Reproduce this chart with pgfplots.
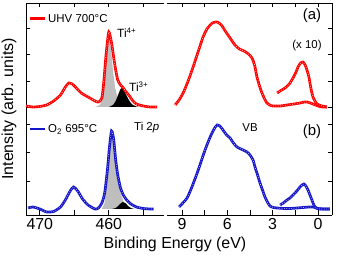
\documentclass[border=0pt]{standalone}
\usepackage{fontspec}
\setmainfont{Liberation Sans}
\usepackage{pgfplots}
\usepackage{pgfplotstable}
\pgfplotsset{compat=1.18}
\definecolor{myred}{RGB}{255,0,0}
\definecolor{myblue}{RGB}{20,20,200}
\definecolor{mygray}{RGB}{190,190,190}
\pgfplotstableread{
472.0 109
471.0 108
470.0 108.5
469.0 110
468.0 114
467.0 120
466.3 128
465.8 132
465.3 131
464.7 127
464.0 122
463.0 118
462.0 114
461.5 113
461.0 117
460.7 135
460.4 160
460.0 183
459.6 172
459.3 158
459.0 145
458.7 135
458.3 130
458.0 128
457.6 124
457.0 119
456.5 114
456.0 111
455.0 109
454.0 108
453.0 108
}\redti
\pgfplotstableread{
471.7 7
471.0 8
470.0 6
469.0 3
468.0 3.5
467.0 8
466.3 15
465.6 24
465.1 28
464.5 24
463.8 16
463.0 10
462.0 6
461.5 7
461.0 12
460.6 22
460.2 45
459.9 68
459.6 84
459.3 76
459.0 55
458.7 40
458.3 27
457.9 20
457.4 15
456.8 11
456.0 8
455.0 6.5
454.0 6
453.5 6
}\blueti
\pgfplotstableread{
9.46 110
9.2 115
8.93 122
8.6 134
8.27 148
7.9 165
7.61 178
7.35 186
7.0 192
6.68 193
6.4 190
6.1 183
5.82 177
5.5 170
5.2 166
4.9 164
4.6 161
4.37 157
4.2 150
4.04 138
3.85 128
3.71 122
3.5 115
3.38 112
3.2 110
2.98 109
2.5 109
2.05 110
1.6 111
1.19 112
0.9 113
0.73 113
0.5 112
0.33 111
0.0 109
-0.3 108
-0.6 108
}\redvb
\pgfplotstableread{
2.71 122
2.4 125
2.18 127
1.9 131
1.65 137
1.45 143
1.32 148
1.15 152
0.99 153
0.85 150
0.73 145
0.6 138
0.53 132
0.43 124
0.33 118
0.2 114
0.07 111
-0.26 109
-0.6 108
}\redten
\pgfplotstableread{
9.2 8
8.95 12
8.67 17
8.35 28
8.0 42
7.75 53
7.48 65
7.25 74
7.02 82
6.8 88
6.68 90
6.5 89
6.29 85
6.05 80
5.82 77
5.6 72
5.36 68
5.1 66
4.96 65
4.7 63
4.5 60
4.3 55
4.17 48
4.0 40
3.84 32
3.65 24
3.51 18
3.35 13
3.18 9
2.95 7.5
2.71 7
2.2 6.5
1.85 6.5
1.4 7
0.99 7.5
0.6 8
0.33 8
0.1 7
0.0 6.5
-0.4 6
-0.79 6
}\bluevb
\pgfplotstableread{
2.51 10
2.3 12
2.05 15
1.85 17
1.65 20
1.4 24
1.19 28
1.05 30
0.93 31
0.8 29
0.66 25
0.53 20
0.40 15
0.3 11
0.20 8
0.05 6.5
-0.13 6
-0.79 6
}\blueten
\pgfplotsset{panel/.style={
  scale only axis, height=212bp, ymin=0, ymax=212,
  ytick={34,63,91,108,134,161,187}, yticklabels={},
  x dir=reverse,
  tick align=inside, axis line style={-, line width=0.8bp},
  major tick length=4.5bp, tick style={line width=0.8bp, black},
  ticklabel style={font=\fontsize{16}{18}\selectfont},
  /pgf/number format/assume math mode=true,
  axis x line*=box, anchor=south west,
  redc/.style={myred, line width=2.7bp, smooth, tension=0.4},
  bluec/.style={myblue, line width=2.7bp, smooth, tension=0.4},
  dotc/.style={white, opacity=0.75, line width=0.7bp, dash pattern=on 0.7bp off 1.7bp, smooth, tension=0.4},
}}
\begin{document}
\begin{tikzpicture}
% ---------------- left panel: Ti 2p ----------------
\begin{axis}[panel, at={(26bp,43bp)}, width=138bp,
  xmin=452, xmax=472, axis y line*=left,
  xtick={455,460,465,470}, xticklabels={,460,,470}]
% red Ti4+ component
\addplot[fill=mygray, draw=none] table {
462.0 108
461.3 110
460.9 116
460.6 135
460.3 165
460.0 183
459.7 168
459.4 145
459.1 128
458.8 119
458.4 113
458.0 110
457.5 108.5
457.0 108
};
% red Ti3+ component
\addplot[fill=black, draw=none, smooth, tension=0.4] table {
460.0 108
459.4 110
459.0 114
458.6 121
458.3 126
458.1 127
457.8 125
457.4 119
457.0 114
456.6 110.5
456.0 108.5
455.5 108
};
% blue Ti4+ component
\addplot[fill=mygray, draw=none] table {
461.0 6
460.6 12
460.2 40
459.9 66
459.6 84
459.3 74
459.0 52
458.7 36
458.3 22
457.9 14
457.4 8
457.0 6
};
% blue Ti3+ component
\addplot[fill=black, draw=none, smooth, tension=0.4] table {
459.6 6
459.0 7
458.5 10
458.0 13
457.6 12
457.2 9
456.8 7
456.3 6
};
\addplot[redc] table {\redti};
\addplot[dotc] table {\redti};
\addplot[bluec] table {\blueti};
\addplot[dotc] table {\blueti};
\end{axis}
% ---------------- right panel: VB ----------------
\begin{axis}[panel, at={(167bp,43bp)}, width=165bp,
  xmin=-0.93, xmax=10, axis y line*=right,
  xtick={0,1.5,3,4.5,6,7.5,9}, xticklabels={0,,3,,6,,9}]
\addplot[redc] table {\redvb};
\addplot[dotc] table {\redvb};
\addplot[redc] table {\redten};
\addplot[dotc] table {\redten};
\addplot[bluec] table {\bluevb};
\addplot[dotc] table {\bluevb};
\addplot[bluec] table {\blueten};
\addplot[dotc] table {\blueten};
\end{axis}
% ---------------- labels and annotations ----------------
\node[rotate=90, font=\fontsize{16}{18}\selectfont] at (9bp,149bp) {Intensity (arb. units)};
\node[font=\fontsize{16}{18}\selectfont] at (175bp,14bp) {Binding Energy (eV)};
\draw[myred, line width=2.7bp] (30bp,239.5bp) -- (45bp,239.5bp);
\node[anchor=west, font=\fontsize{11.5}{13}\selectfont, inner sep=0pt] at (48bp,239bp) {UHV 700°C};
\draw[myblue, line width=2.7bp] (30bp,129bp) -- (45bp,129bp);
\node[anchor=west, font=\fontsize{11.5}{13}\selectfont, inner sep=0pt] at (48bp,128.5bp) {O\textsubscript{2} 695°C};
\node[anchor=west, font=\fontsize{12}{14}\selectfont, inner sep=0pt] at (117bp,225bp) {Ti\textsuperscript{4+}};
\node[anchor=west, font=\fontsize{12}{14}\selectfont, inner sep=0pt] at (129bp,171bp) {Ti\textsuperscript{3+}};
\node[anchor=west, font=\fontsize{11.5}{13}\selectfont, inner sep=0pt] at (134bp,130bp) {Ti 2\textit{p}};
\node[font=\fontsize{15}{17}\selectfont, inner sep=0pt] at (312bp,242bp) {(a)};
\node[font=\fontsize{11.5}{13}\selectfont, inner sep=0pt] at (307bp,212bp) {(x 10)};
\node[font=\fontsize{15}{17}\selectfont, inner sep=0pt] at (312bp,126bp) {(b)};
\node[font=\fontsize{11.5}{13}\selectfont, inner sep=0pt] at (250bp,130bp) {VB};
\pgfresetboundingbox
\path (0,0) rectangle (340bp,258bp);
\end{tikzpicture}
\end{document}
